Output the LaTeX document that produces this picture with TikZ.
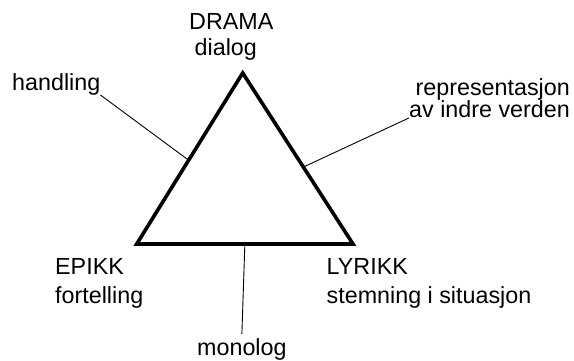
\documentclass[tikz,border=0pt]{standalone}
\usepackage{fontspec}
\setmainfont{Liberation Sans}
\usetikzlibrary{calc}
\begin{document}
\begin{tikzpicture}[x=1pt,y=-1pt,
  lbl/.style={inner sep=0pt,font=\fontsize{23.3}{28}\selectfont},
  tri/.style={line width=3.6pt,line join=miter},
  conn/.style={line width=0.9pt}]
\useasboundingbox (0,0) rectangle (574,360);
\coordinate (A) at (242.7,73);
\coordinate (L) at (136.7,244);
\coordinate (R) at (353,244);
\draw[tri] (A) -- (L) -- (R) -- cycle;
\node[lbl,anchor=base west] (drama) at (189,29.3) {DRAMA};
\node[lbl,anchor=base west] (dialog) at (194.5,55) {dialog};
\node[lbl,anchor=base west] (handling) at (12,90) {handling};
\node[lbl,anchor=base east] (repr) at (570,95) {representasjon};
\node[lbl,anchor=base east] (av) at (570,117.5) {av indre verden};
\node[lbl,anchor=base west] (epikk) at (55,274) {EPIKK};
\node[lbl,anchor=base west] (fort) at (55,303.3) {fortelling};
\node[lbl,anchor=base west] (lyrikk) at (326.5,274) {LYRIKK};
\node[lbl,anchor=base west] (stem) at (326.5,303.3) {stemning i situasjon};
\node[lbl,anchor=base west] (monolog) at (197,355) {monolog};
\draw[conn] (handling.south east) -- ($(A)!0.51!(L)$);
\draw[conn] (av.south west) -- ($(A)!0.55!(R)$);
\draw[conn] ($(L)!0.5!(R)$) -- ([yshift=4pt]monolog.north);
\end{tikzpicture}
\end{document}
